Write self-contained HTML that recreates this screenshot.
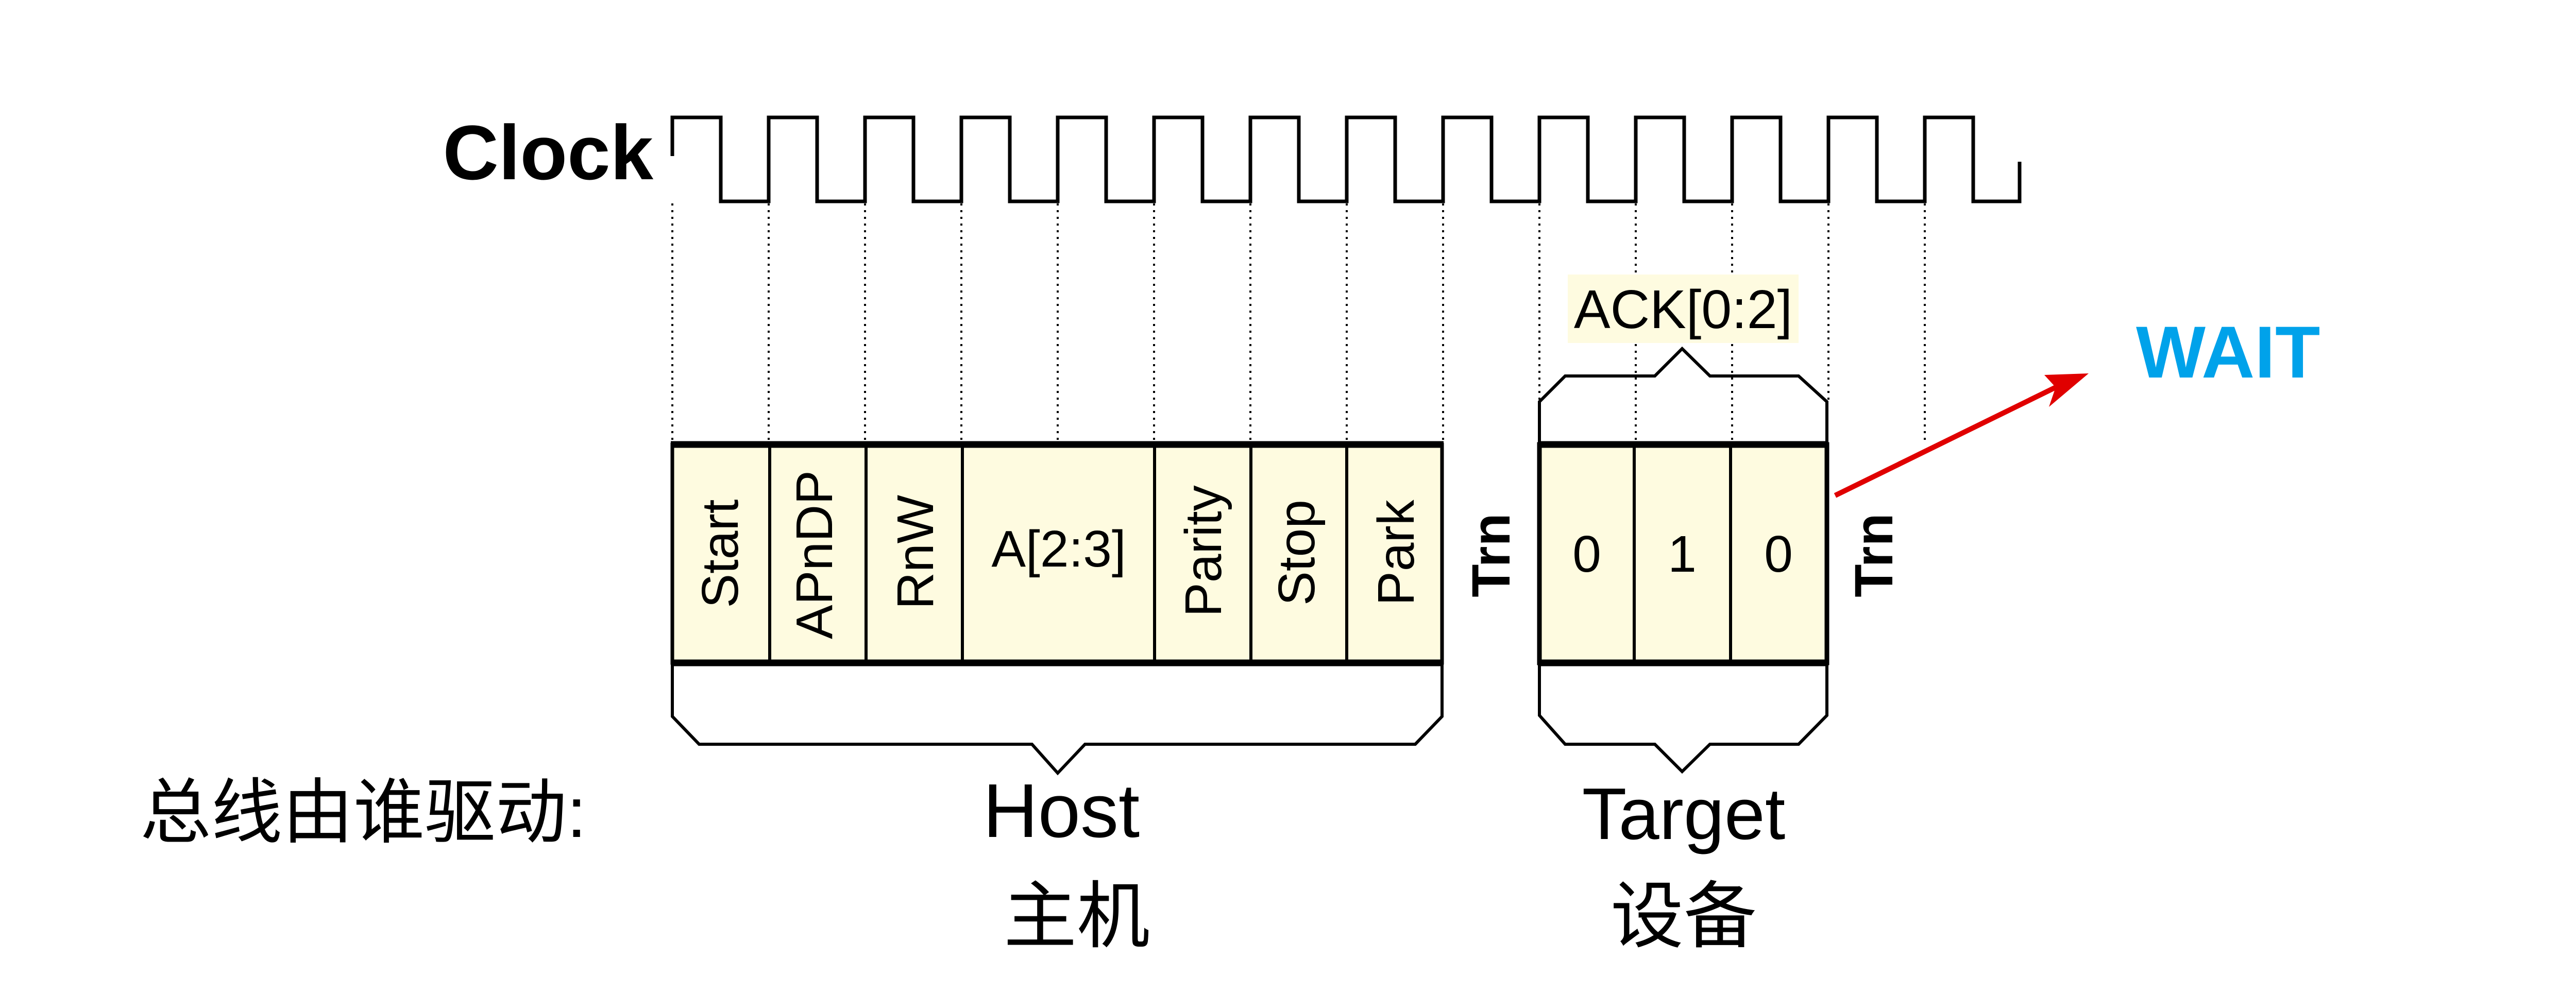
<!DOCTYPE html>
<html><head><meta charset="utf-8"><style>
html,body{margin:0;padding:0;background:#fff;}
svg{display:block;}
text{font-family:"Liberation Sans","Noto Sans CJK SC",sans-serif;}
</style></head><body>
<svg width="5004" height="1928" viewBox="0 0 5004 1928" xmlns="http://www.w3.org/2000/svg">
<!-- Clock -->
<text x="1268" y="348" font-size="150" font-weight="bold" text-anchor="end">Clock</text>
<path d="M1305 303 V228 H1399 V391 H1492 V228 H1586 V391 H1679 V228 H1773 V391 H1866 V228 H1960 V391 H2053 V228 H2147 V391 H2240 V228 H2334 V391 H2427 V228 H2521 V391 H2614 V228 H2708 V391 H2801 V228 H2895 V391 H2988 V228 H3082 V391 H3175 V228 H3269 V391 H3362 V228 H3456 V391 H3549 V228 H3643 V391 H3736 V228 H3830 V391 H3920 V314" fill="none" stroke="#000" stroke-width="7"/>
<!-- dotted lines -->
<g stroke="#000" stroke-width="4" stroke-dasharray="4 9">
<line x1="1305" y1="395" x2="1305" y2="860"/>
<line x1="1492" y1="395" x2="1492" y2="860"/>
<line x1="1679" y1="395" x2="1679" y2="860"/>
<line x1="1866" y1="395" x2="1866" y2="860"/>
<line x1="2053" y1="395" x2="2053" y2="860"/>
<line x1="2240" y1="395" x2="2240" y2="860"/>
<line x1="2427" y1="395" x2="2427" y2="860"/>
<line x1="2614" y1="395" x2="2614" y2="860"/>
<line x1="2801" y1="395" x2="2801" y2="860"/>
<line x1="2988" y1="395" x2="2988" y2="780"/>
<line x1="3175" y1="395" x2="3175" y2="860"/>
<line x1="3362" y1="395" x2="3362" y2="860"/>
<line x1="3549" y1="395" x2="3549" y2="780"/>
<line x1="3736" y1="395" x2="3736" y2="860"/>
</g>
<!-- Host box -->
<rect x="1305" y="863" width="1494" height="424" fill="#fefbe0" stroke="#000" stroke-width="7"/>
<line x1="1302" y1="863" x2="2802" y2="863" stroke="#000" stroke-width="13"/>
<line x1="1302" y1="1287" x2="2802" y2="1287" stroke="#000" stroke-width="13"/>
<g stroke="#000" stroke-width="6">
<line x1="1494" y1="863" x2="1494" y2="1287"/>
<line x1="1681" y1="863" x2="1681" y2="1287"/>
<line x1="1868" y1="863" x2="1868" y2="1287"/>
<line x1="2241" y1="863" x2="2241" y2="1287"/>
<line x1="2428" y1="863" x2="2428" y2="1287"/>
<line x1="2614" y1="863" x2="2614" y2="1287"/>
</g>
<g font-size="100">
<text transform="translate(1432,1075) rotate(-90)" text-anchor="middle">Start</text>
<text transform="translate(1615,1077) rotate(-90)" text-anchor="middle">APnDP</text>
<text transform="translate(1811,1072) rotate(-90)" text-anchor="middle">RnW</text>
<text x="2055" y="1100" text-anchor="middle">A[2:3]</text>
<text transform="translate(2370,1070) rotate(-90)" text-anchor="middle">Parity</text>
<text transform="translate(2551,1073) rotate(-90)" text-anchor="middle">Stop</text>
<text transform="translate(2744,1073) rotate(-90)" text-anchor="middle">Park</text>
</g>
<text transform="translate(2930,1078) rotate(-90)" text-anchor="middle" font-size="105" font-weight="bold">Trn</text>
<!-- Host brace -->
<path d="M1305 1291 V1391 L1357 1445 H2003 L2053 1501 L2106 1445 H2747 L2799 1391 V1291" fill="none" stroke="#000" stroke-width="6"/>
<!-- Target box -->
<rect x="2988" y="863" width="558" height="424" fill="#fefbe0" stroke="#000" stroke-width="9"/>
<line x1="2985" y1="863" x2="3549" y2="863" stroke="#000" stroke-width="13"/>
<line x1="2985" y1="1287" x2="3549" y2="1287" stroke="#000" stroke-width="13"/>
<line x1="3172" y1="863" x2="3172" y2="1287" stroke="#000" stroke-width="6"/>
<line x1="3359" y1="863" x2="3359" y2="1287" stroke="#000" stroke-width="6"/>
<g font-size="100" text-anchor="middle">
<text x="3080" y="1110">0</text>
<text x="3265" y="1110">1</text>
<text x="3452" y="1110">0</text>
</g>
<text transform="translate(3673,1078) rotate(-90)" text-anchor="middle" font-size="105" font-weight="bold">Trn</text>
<!-- Target braces -->
<path d="M2988 860 V780 L3038 730 H3212 L3265 677 L3319 730 H3491 L3546 780 V860" fill="none" stroke="#000" stroke-width="6"/>
<path d="M2988 1291 V1389 L3038 1445 H3212 L3265 1498 L3319 1445 H3491 L3546 1389 V1291" fill="none" stroke="#000" stroke-width="6"/>
<rect x="3043" y="533" width="448" height="133" fill="#fefbe0"/>
<text x="3267" y="637" font-size="106" text-anchor="middle">ACK[0:2]</text>
<!-- Arrow -->
<line x1="3562" y1="962" x2="3990" y2="752" stroke="#e00000" stroke-width="10"/>
<polygon points="4054,725 3968,728 3990,752 3977,790" fill="#e00000"/>
<text x="4146" y="733" font-size="143" font-weight="bold" fill="#00a2ea">WAIT</text>
<!-- Bottom labels -->
<text x="272" y="1625" font-size="138" font-family="'Noto Serif CJK SC',serif">总线由谁驱动<tspan font-family="'Liberation Sans',sans-serif">:</tspan></text>
<text x="2060" y="1625" font-size="148" text-anchor="middle">Host</text>
<text x="2090" y="1828" font-size="142" text-anchor="middle" font-family="'Noto Serif CJK SC',serif">主机</text>
<text x="3268" y="1629" font-size="142" text-anchor="middle">Target</text>
<text x="3268" y="1828" font-size="142" text-anchor="middle" font-family="'Noto Serif CJK SC',serif">设备</text>
</svg>
</body></html>
